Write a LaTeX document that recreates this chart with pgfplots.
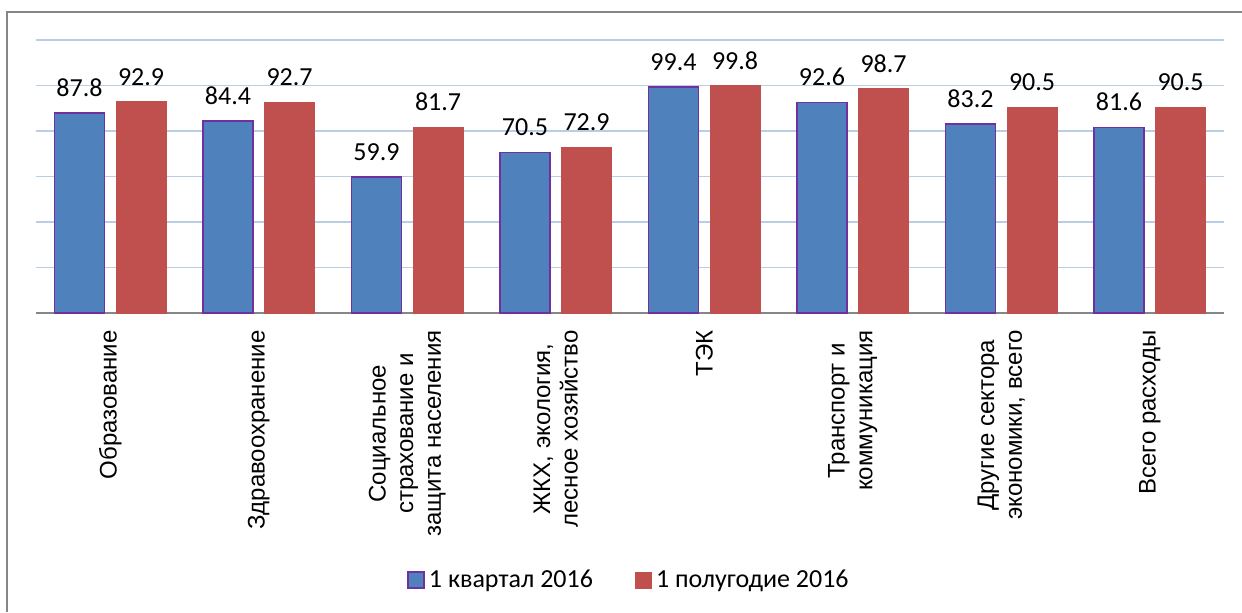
\documentclass[border=0pt]{standalone}
\usepackage{pgfplots}
\pgfplotsset{compat=1.18}
\usepackage{fontspec}
\setmainfont{Carlito}
\newfontfamily\arialf{Liberation Sans}
\definecolor{barblue}{RGB}{79,129,189}
\definecolor{barred}{RGB}{192,80,77}
\definecolor{barborder}{RGB}{112,48,160}
\definecolor{gridblue}{RGB}{185,205,229}
\definecolor{axisgray}{RGB}{134,134,134}
\begin{document}
\begin{tikzpicture}[x=1pt,y=1pt]
\path[use as bounding box] (0,0) rectangle (621,306);
\draw[axisgray, line width=0.8pt] (3.5,0) -- (3.5,300) -- (621,300);
\begin{axis}[
  at={(18pt,149.5pt)}, anchor=south west,
  scale only axis, width=594pt, height=136.5pt,
  xmin=-0.5, xmax=7.5, ymin=0, ymax=120,
  ytick={0,20,...,120}, yticklabels={}, ymajorgrids,
  grid style={gridblue, line width=0.75pt},
  axis lines*=left,
  y axis line style={draw=none},
  x axis line style={axisgray, line width=0.75pt, -},
  major tick length=0pt,
  xtick={0,...,7},
  xticklabels={{Образование},{Здравоохранение},{Социальное\\страхование и\\защита населения},{ЖКХ, экология,\\лесное хозяйство},{ТЭК},{Транспорт и\\коммуникация},{Другие сектора\\экономики, всего},{Всего расходы}},
  xticklabel style={font=\arialf\fontsize{12}{13.8}\selectfont, rotate=90, anchor=east, align=center, inner sep=0pt},
  xticklabel shift=8.5pt,
  ybar=5.8pt, bar width=25pt,
  nodes near coords,
  nodes near coords style={font=\fontsize{13}{15}\selectfont, yshift=4.5pt, text=black},
  /pgf/number format/assume math mode=true,
  /pgf/number format/fixed, /pgf/number format/fixed zerofill, /pgf/number format/precision=1,
  legend columns=2,
  legend style={at={(0.5,-0.978)}, anchor=center, draw=none, font=\fontsize{13}{15}\selectfont,
    /tikz/every even column/.append style={column sep=19pt}},
  legend image code/.code={\draw[#1] (0pt,-4pt) rectangle (8pt,4pt);},
  clip=false,
]
\addplot[fill=barblue, draw=barborder, line width=0.8pt] coordinates {(0,87.8) (1,84.4) (2,59.9) (3,70.5) (4,99.4) (5,92.6) (6,83.2) (7,81.6)};
\addplot[fill=barred, draw=barred, line width=0.5pt] coordinates {(0,92.9) (1,92.7) (2,81.7) (3,72.9) (4,99.8) (5,98.7) (6,90.5) (7,90.5)};
\legend{1 квартал 2016, 1 полугодие 2016}
\end{axis}
\end{tikzpicture}
\end{document}
